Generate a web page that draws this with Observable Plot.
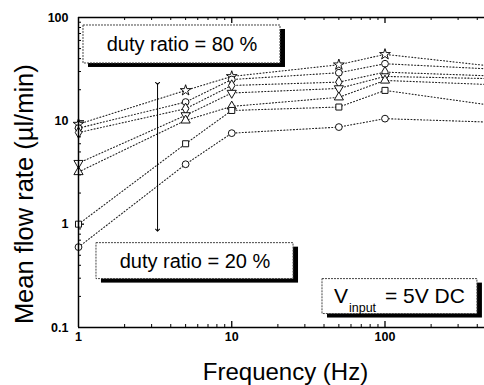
<!DOCTYPE html>
<html>
<head>
<meta charset="utf-8">
<script src="https://cdn.jsdelivr.net/npm/d3@7"></script>
<script src="https://cdn.jsdelivr.net/npm/@observablehq/plot@0.6"></script>
<style>
  html, body { margin: 0; padding: 0; background: white; overflow: hidden; }
</style>
</head>
<body>
<div id="chart"></div>
<script>
// ---- data ----
const frequency = [1, 5, 10, 50, 100, 500];
const dutyRatios = ["80 %", "70 %", "60 %", "50 %", "40 %", "30 %", "20 %"];
const flow80 = [9.3, 19.7, 26.9, 34.9, 44.0, 33.8];
const flow70 = [8.5, 15.2, 25.1, 29.2, 35.7, 31.7];
const flow60 = [7.7, 13.1, 22.0, 23.7, 29.6, 27.2];
const flow50 = [3.9, 11.3, 18.6, 20.6, 26.9, 25.6];
const flow40 = [3.2, 10.1, 13.8, 16.9, 24.6, 22.4];
const flow30 = [1.0, 6.0, 12.6, 13.6, 19.7, 14.1];
const flow20 = [0.6, 3.8, 7.6, 8.7, 10.5, 9.7];
const flowSeries = [flow80, flow70, flow60, flow50, flow40, flow30, flow20];

const xTickLabels = [1, 10, 100];
const yTickLabels = [0.1, 1, 10, 100];
const xMinor = [2, 3, 4, 5, 6, 7, 8, 9, 20, 30, 40, 50, 60, 70, 80, 90, 200, 300, 400];
const yMinor = [0.2, 0.3, 0.4, 0.5, 0.6, 0.7, 0.8, 0.9, 2, 3, 4, 5, 6, 7, 8, 9, 20, 30, 40, 50, 60, 70, 80, 90];

const xLabel = "Frequency (Hz)";
const yLabel = "Mean flow rate (\u00b5l/min)";

// annotation boxes (data coordinates)
const boxes = [
  {label: "duty ratio = 80 %", x1: 1.078, x2: 20.8, y1: 35.9, y2: 83.7},
  {label: "duty ratio = 20 %", x1: 1.31, x2: 25.3, y1: 0.294, y2: 0.655},
  {label: "", x1: 39.1, x2: 401, y1: 0.135, y2: 0.294}
];
const arrowData = [{x: 3.28, y1: 23, y2: 0.875}];

// ---- build table ----
const rows = [];
dutyRatios.forEach((d, i) => {
  frequency.forEach((f, j) => rows.push({duty: d, freq: f, flow: flowSeries[i][j]}));
});

const invTriangle = {
  draw(context, size) {
    const sqrt3 = Math.sqrt(3);
    const y = -Math.sqrt(size / (sqrt3 * 3));
    context.moveTo(0, -y * 2);
    context.lineTo(-sqrt3 * y, y);
    context.lineTo(sqrt3 * y, y);
    context.closePath();
  }
};
const symbolFor = {
  "80 %": "star", "70 %": "circle", "60 %": "diamond", "50 %": invTriangle,
  "40 %": "triangle", "30 %": "square", "20 %": "circle"
};

const W = 484, H = 385;
const mL = 78, mR = 0, mT = 17, mB = 58;
const innerW = W - mL - mR, innerH = H - mT - mB;

const dotMarks = dutyRatios.map(d => Plot.dot(rows.filter(r => r.duty === d && r.freq <= 446), {
  x: "freq", y: "flow", symbol: symbolFor[d], r: 3.4, fill: "white", stroke: "#111", strokeWidth: 1
}));

const vBox = boxes[2];
const vCx = Math.sqrt(vBox.x1 * vBox.x2), vCy = Math.sqrt(vBox.y1 * vBox.y2);

const chart = Plot.plot({
  width: W, height: H,
  marginLeft: mL, marginRight: mR, marginTop: mT, marginBottom: mB,
  style: {background: "white", fontFamily: "'Liberation Sans', Arial, sans-serif", color: "black"},
  x: {type: "log", domain: [1, 446]},
  y: {type: "log", domain: [0.1, 100]},
  marks: [
    Plot.axisX({ticks: xTickLabels, tickSize: 0, tickPadding: 5, tickFormat: d => String(d), fontSize: 12.5, fontWeight: "bold", label: null}),
    Plot.axisY({ticks: yTickLabels, tickSize: 0, tickPadding: 10, tickFormat: d => String(d), fontSize: 12.5, fontWeight: "bold", label: null}),
    // inward ticks
    Plot.tickY(yMinor, {y: d => d, insetRight: innerW - 3, stroke: "black"}),
    Plot.tickY([1, 10], {y: d => d, insetRight: innerW - 6, stroke: "black", strokeWidth: 1.3}),
    Plot.tickX(xMinor, {x: d => d, insetTop: innerH - 3, stroke: "black"}),
    Plot.tickX([10, 100], {x: d => d, insetTop: innerH - 6, stroke: "black", strokeWidth: 1.3}),
    Plot.tickX(xMinor, {x: d => d, insetBottom: innerH - 3, stroke: "black"}),
    Plot.tickX([10, 100], {x: d => d, insetBottom: innerH - 6, stroke: "black", strokeWidth: 1.3}),
    // series lines
    Plot.line(rows, {x: "freq", y: "flow", z: "duty", stroke: "#222", strokeWidth: 1.1, strokeDasharray: "1,2.2", clip: true}),
    ...dotMarks,
    // arrow
    Plot.link(arrowData, {x1: "x", x2: "x", y1: "y1", y2: "y2", stroke: "black", strokeWidth: 1, markerStart: "arrow", markerEnd: "arrow"}),
    // boxes
    Plot.rect(boxes, {x1: "x1", x2: "x2", y1: "y1", y2: "y2", fill: "black", dx: 5, dy: 4}),
    Plot.rect(boxes, {x1: "x1", x2: "x2", y1: "y1", y2: "y2", fill: "white", stroke: "#444", strokeWidth: 1, strokeDasharray: "2,1"}),
    Plot.text(boxes.filter(b => b.label), {x: b => Math.sqrt(b.x1 * b.x2), y: b => Math.sqrt(b.y1 * b.y2), text: "label", fontSize: 20, fill: "black"}),
    Plot.text(["V"], {x: () => vCx, y: () => vCy, text: d => d, textAnchor: "start", dx: -66, fontSize: 21}),
    Plot.text(["input"], {x: () => vCx, y: () => vCy, text: d => d, textAnchor: "start", dx: -51, dy: 11, fontSize: 12.5}),
    Plot.text(["= 5V DC"], {x: () => vCx, y: () => vCy, text: d => d, textAnchor: "start", dx: -15, fontSize: 21}),
    // frame
    Plot.ruleX([1], {stroke: "black", strokeWidth: 1.5}),
    Plot.ruleY([0.1, 100], {stroke: "black", strokeWidth: 1.5}),
    // axis titles
    Plot.text([xLabel], {text: d => d, frameAnchor: "bottom", textAnchor: "middle", dx: 4, dy: 52.5, fontSize: 24}),
    Plot.text([yLabel], {text: d => d, frameAnchor: "left", y: () => 1.95, textAnchor: "middle", rotate: -90, dx: -54, fontSize: 25.5})
  ]
});
document.getElementById("chart").appendChild(chart);
</script>
</body>
</html>
